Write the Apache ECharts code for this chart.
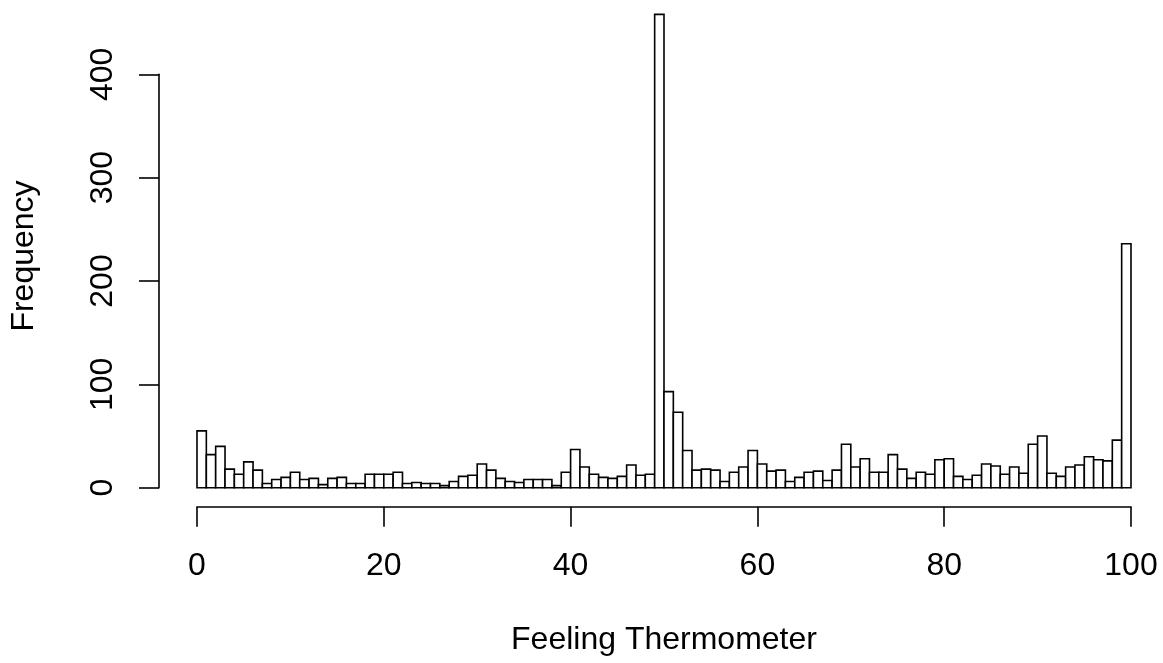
<!DOCTYPE html>
<html>
<head>
<meta charset="utf-8">
<script src="https://cdn.jsdelivr.net/npm/echarts@6/dist/echarts.min.js"></script>
<style>html,body{margin:0;padding:0;background:#fff}#c{width:1163px;height:663px}</style>
</head>
<body>
<div id="c"></div>
<script>
// Histogram bin edges (width 1) and counts
const binLefts = [0,1,2,3,4,5,6,7,8,9,10,11,12,13,14,15,16,17,18,19,20,21,22,23,24,25,26,27,28,29,30,31,32,33,34,35,36,37,38,39,40,41,42,43,44,45,46,47,48,49,50,51,52,53,54,55,56,57,58,59,60,61,62,63,64,65,66,67,68,69,70,71,72,73,74,75,76,77,78,79,80,81,82,83,84,85,86,87,88,89,90,91,92,93,94,95,96,97,98,99];
const binRights = [1,2,3,4,5,6,7,8,9,10,11,12,13,14,15,16,17,18,19,20,21,22,23,24,25,26,27,28,29,30,31,32,33,34,35,36,37,38,39,40,41,42,43,44,45,46,47,48,49,50,51,52,53,54,55,56,57,58,59,60,61,62,63,64,65,66,67,68,69,70,71,72,73,74,75,76,77,78,79,80,81,82,83,84,85,86,87,88,89,90,91,92,93,94,95,96,97,98,99,100];
const counts = [
  55,32,40,18,13,25,17,4,8,10,
  15,8,9,3,9,10,4,4,13,13,
  13,15,4,5,4,4,2,6,11,12,
  23,17,9,6,5,8,8,8,2,15,
  37,20,13,10,9,11,22,12,13,458,
  93,73,36,17,18,17,6,15,20,36,
  23,16,17,6,10,15,16,7,17,42,
  20,28,15,15,32,18,9,15,13,27,
  28,11,8,12,23,21,13,20,14,42,
  50,14,11,20,22,30,27,26,46,236
];
const xTicks = [0,20,40,60,80,100];
const yTicks = [0,100,200,300,400];
const xTitle = 'Feeling Thermometer';
const yTitle = 'Frequency';

const FONT = 'Liberation Sans, Arial, Helvetica, sans-serif';
const FS = 32;
const LW = 1.6;

const data = binLefts.map((l, i) => [l, binRights[i], counts[i]]);

const chart = echarts.init(document.getElementById('c'), null, {renderer: 'canvas'});
chart.setOption({
  animation: false,
  backgroundColor: '#ffffff',
  grid: [
    {left: 197, right: 32, top: 12.3, bottom: 175.3},
    {left: 159, width: 10, top: 74.3, bottom: 175.3}
  ],
  xAxis: [
    {
      type: 'value', gridIndex: 0, min: xTicks[0], max: xTicks[xTicks.length - 1], interval: 20,
      position: 'bottom', offset: 19,
      axisLine: {show: true, onZero: false, lineStyle: {color: '#000', width: LW}},
      axisTick: {show: true, length: 20, lineStyle: {color: '#000', width: LW}},
      axisLabel: {show: true, margin: 43, color: '#000', fontSize: FS, fontFamily: FONT,
        formatter: v => xTicks.includes(v) ? String(v) : ''},
      splitLine: {show: false}
    },
    {type: 'value', gridIndex: 1, min: 0, max: 1, show: false}
  ],
  yAxis: [
    {type: 'value', gridIndex: 0, min: 0, max: 460, show: false},
    {
      type: 'value', gridIndex: 1, min: yTicks[0], max: yTicks[yTicks.length - 1], interval: 100,
      position: 'left',
      axisLine: {show: true, onZero: false, lineStyle: {color: '#000', width: LW}},
      axisTick: {show: true, length: 20, lineStyle: {color: '#000', width: LW}},
      axisLabel: {show: true, rotate: 90, margin: 40, color: '#000', fontSize: FS, fontFamily: FONT},
      splitLine: {show: false}
    }
  ],
  series: [{
    type: 'custom',
    xAxisIndex: 0, yAxisIndex: 0,
    clip: false,
    data: data,
    renderItem: function (params, api) {
      const p0 = api.coord([api.value(0), 0]);
      const p1 = api.coord([api.value(1), api.value(2)]);
      return {
        type: 'rect',
        shape: {x: p0[0], y: p1[1], width: p1[0] - p0[0], height: p0[1] - p1[1]},
        style: {fill: '#ffffff', stroke: '#000000', lineWidth: LW}
      };
    }
  }],
  graphic: [
    {type: 'text', x: 664, y: 640, style: {text: xTitle, font: FS + 'px ' + FONT, fill: '#000', align: 'center', verticalAlign: 'middle'}},
    {type: 'text', x: 24, y: 256, rotation: Math.PI / 2, style: {text: yTitle, font: FS + 'px ' + FONT, fill: '#000', align: 'center', verticalAlign: 'middle'}}
  ]
});
</script>
</body>
</html>
